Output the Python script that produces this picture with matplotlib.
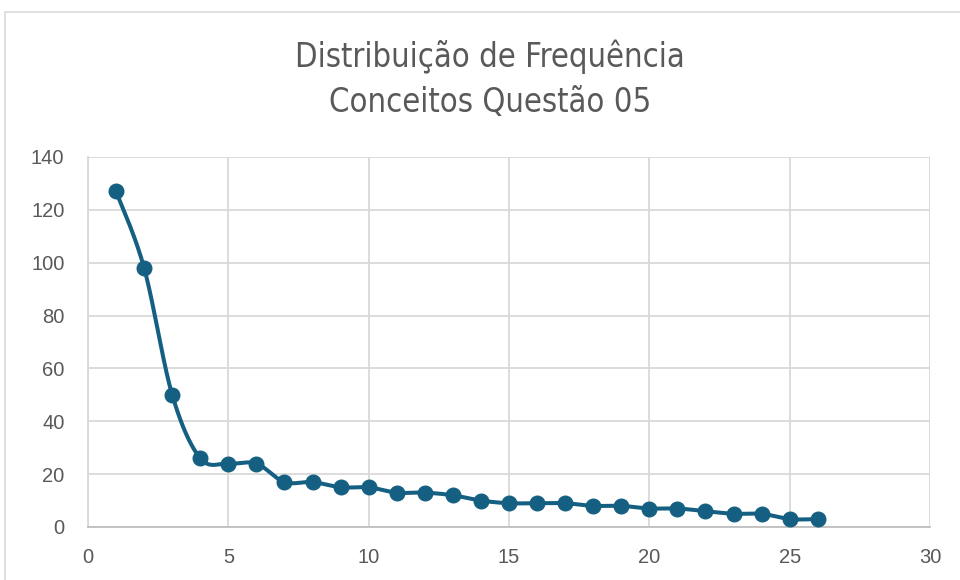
import numpy as np
import matplotlib
matplotlib.use("Agg")
import matplotlib.pyplot as plt
from matplotlib.patches import Rectangle

# data
x_vals = list(range(1, 27))
freq = [127, 98, 50, 26, 24, 24, 17, 17, 15, 15, 13, 13, 12, 10,
        9, 9, 9, 8, 8, 7, 7, 6, 5, 5, 3, 3]
title_lines = ["Distribuição de Frequência", "Conceitos Questão 05"]

LINE = "#156082"
TEXT = "#595959"
GRID = "#D9D9D9"


def smooth(xs, ys, n=30):
    # excel-like smoothed line (cardinal bezier between points)
    xs = np.asarray(xs, float)
    ys = np.asarray(ys, float)
    px = np.concatenate([[xs[0]], xs, [xs[-1]]])
    py = np.concatenate([[ys[0]], ys, [ys[-1]]])
    outx, outy = [], []
    t = np.linspace(0, 1, n)
    for i in range(1, len(px) - 2):
        p0 = np.array([px[i], py[i]])
        p3 = np.array([px[i + 1], py[i + 1]])
        c1 = p0 + (np.array([px[i + 1], py[i + 1]]) - np.array([px[i - 1], py[i - 1]])) / 6
        c2 = p3 - (np.array([px[i + 2], py[i + 2]]) - np.array([px[i], py[i]])) / 6
        b = ((1 - t) ** 3)[:, None] * p0 + (3 * (1 - t) ** 2 * t)[:, None] * c1 \
            + (3 * (1 - t) * t ** 2)[:, None] * c2 + (t ** 3)[:, None] * p3
        outx.extend(b[:, 0])
        outy.extend(b[:, 1])
    return outx, outy


fig = plt.figure(figsize=(9.6, 5.8), dpi=100)
fig.patches.append(Rectangle((5 / 960, -0.1), 1.2, (580 - 12) / 580 + 0.1,
                             transform=fig.transFigure, fill=False,
                             edgecolor="#D9D9D9", linewidth=1.2))

ax = fig.add_axes([88 / 960, 53 / 580, 842 / 960, 370 / 580])

sx, sy = smooth(x_vals, freq)
ax.plot(sx, sy, color=LINE, linewidth=2.9, zorder=3, solid_capstyle="round")
ax.plot(x_vals, freq, "o", color=LINE, markersize=10.5, zorder=4)

ax.set_xlim(0, 30)
ax.set_ylim(0, 140)
ax.set_xticks(range(0, 31, 5))
ax.set_yticks(range(0, 141, 20))
ax.grid(True, color=GRID, linewidth=1.3)
ax.set_axisbelow(True)
for s in ["top", "right"]:
    ax.spines[s].set_visible(False)
ax.spines["left"].set_color(GRID)
ax.spines["left"].set_linewidth(1.3)
ax.spines["bottom"].set_color("#BFBFBF")
ax.spines["bottom"].set_linewidth(1.3)
ax.tick_params(length=0, labelsize=14.5, labelcolor=TEXT)
ax.tick_params(axis="y", pad=17)
ax.tick_params(axis="x", pad=15)
for lab in ax.get_xticklabels() + ax.get_yticklabels():
    lab.set_family(["Liberation Sans", "DejaVu Sans"])

for i, line in enumerate(title_lines):
    fig.text(490 / 960, 1 - (57 + 46 * i) / 580, line, ha="center", va="center",
             fontsize=23.5, color=TEXT, fontstretch="condensed",
             family=["DejaVu Sans", "Liberation Sans"])

fig.savefig("out.png", dpi=100)
